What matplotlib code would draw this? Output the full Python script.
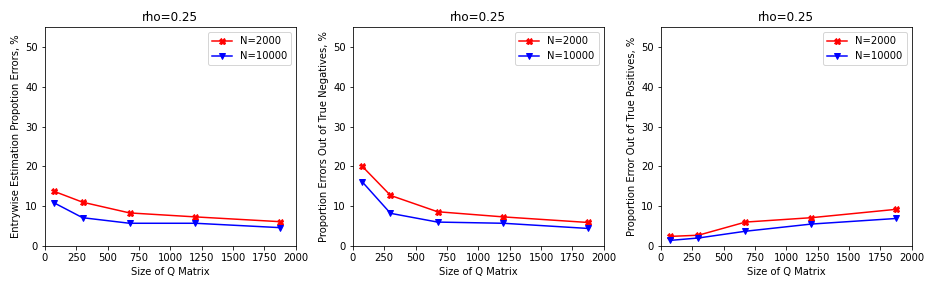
import numpy as np
import matplotlib
matplotlib.use("Agg")
from matplotlib import pyplot as plt

q_size = [75, 300, 675, 1200, 1875]

err_2000 = [13.7, 11.0, 8.3, 7.3, 6.1]
err_10000 = [10.8, 7.1, 5.7, 5.7, 4.6]

neg_2000 = [20.0, 12.7, 8.6, 7.3, 5.9]
neg_10000 = [16.1, 8.2, 6.0, 5.7, 4.4]

pos_2000 = [2.4, 2.7, 6.0, 7.1, 9.2]
pos_10000 = [1.4, 2.0, 3.7, 5.5, 6.9]

ylabels = ["Entrywise Estimation Propotion Errors, %",
           "Proportion Errors Out of True Negatives, %",
           "Proportion Error Out of True Positives, %"]
series = [(err_2000, err_10000), (neg_2000, neg_10000), (pos_2000, pos_10000)]

fig = plt.figure(figsize=(13, 4), dpi=72)
lefts = [0.048, 0.377, 0.706]
for i in range(3):
    ax = fig.add_axes([lefts[i], 0.146, 0.268, 0.76])
    a, b = series[i]
    ax.plot(q_size, a, color='red', marker='X', label='N=2000')
    ax.plot(q_size, b, color='blue', marker='v', label='N=10000')
    ax.set_xlim(0, 2000)
    ax.set_ylim(0, 55)
    ax.set_yticks([0, 10, 20, 30, 40, 50])
    ax.set_title('rho=0.25')
    ax.set_xlabel('Size of Q Matrix')
    ax.set_ylabel(ylabels[i])
    ax.legend(loc='upper right')

plt.savefig('out.png', dpi=72)
